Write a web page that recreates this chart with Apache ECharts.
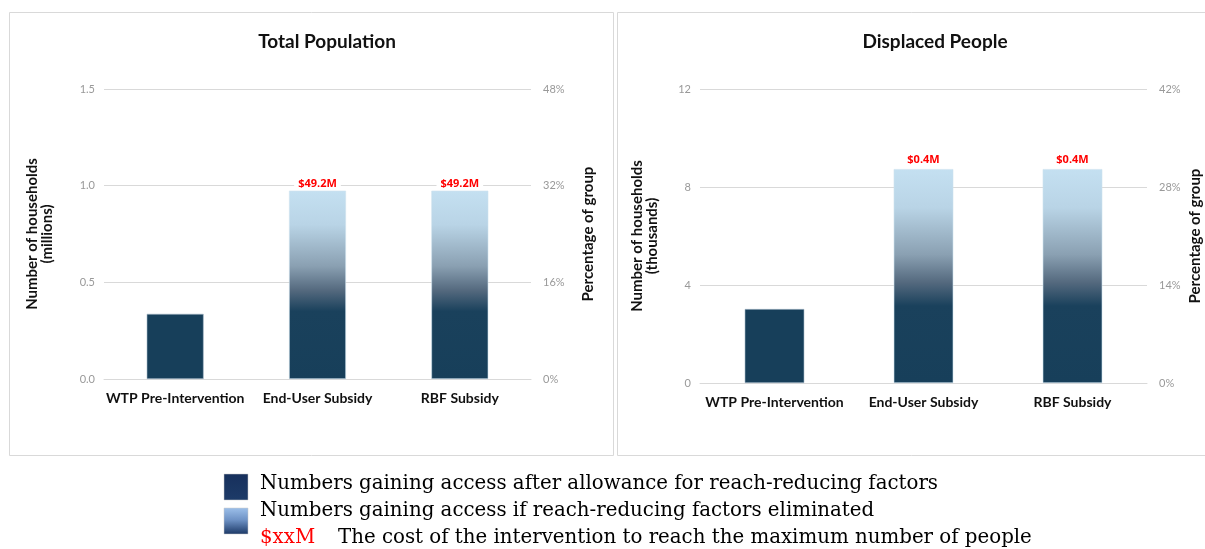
<!DOCTYPE html>
<html>
<head>
<meta charset="utf-8">
<script src="https://cdn.jsdelivr.net/npm/echarts@6/dist/echarts.min.js"></script>
<style>
  html, body { margin: 0; padding: 0; background: #ffffff; }
  #chart { width: 1205px; height: 549px; }
</style>
</head>
<body>
<div id="chart"></div>
<script>
// Categories shared by both panels
const categories = ['WTP Pre-Intervention', 'End-User Subsidy', 'RBF Subsidy'];

// Households reached, total population (millions)
const totalHouseholds = [0.337, 0.974, 0.974];
// Households reached, displaced people (thousands)
const displacedHouseholds = [3.02, 8.73, 8.73];

// Intervention cost to reach the maximum number of people
const totalCost = ['', '$49.2M', '$49.2M'];
const displacedCost = ['', '$0.4M', '$0.4M'];

// Axis scales: [min, max, interval]
const totalCountAxis = [0, 1.5, 0.5];
const totalPctAxis = [0, 48, 16];
const displacedCountAxis = [0, 12, 4];
const displacedPctAxis = [0, 42, 14];

// Panel titles and axis names
const panelTitles = ['Total Population', 'Displaced People'];
const countAxisNames = ['Number of households\n(millions)', 'Number of households\n(thousands)'];
const pctAxisName = 'Percentage of group';

// Legend text
const legendLines = [
  'Numbers gaining access after allowance for reach-reducing factors',
  'Numbers gaining access if reach-reducing factors eliminated'
];
const costKey = '$xxM';
const costKeyText = 'The cost of the intervention to reach the maximum number of people';

const DARK = '#173f5a';
const reachGradient = {
  type: 'linear', x: 0, y: 0, x2: 0, y2: 1,
  colorStops: [
    { offset: 0, color: '#c4e0f1' },
    { offset: 0.18, color: '#b9d4e6' },
    { offset: 0.4, color: '#8aa0b2' },
    { offset: 0.53, color: '#54697e' },
    { offset: 0.64, color: '#1a415c' },
    { offset: 1, color: DARK }
  ]
};

const tickFont = { color: '#999999', fontSize: 11, fontFamily: 'Lato' };
const nameFont = { color: '#111', fontSize: 15, fontWeight: 'bold', fontFamily: 'Lato', lineHeight: 15 };
const legendFont = '19.8px "DejaVu Serif"';

function barData(values) {
  return values.map((v, i) => ({
    value: v,
    itemStyle: i === 0
      ? { color: DARK, borderColor: '#a9bccb', borderWidth: 0.6 }
      : { color: reachGradient, borderColor: '#cfe2ee', borderWidth: 0.6 }
  }));
}

function costLabel(costs, distance) {
  return {
    show: true,
    position: 'top',
    distance,
    formatter: p => costs[p.dataIndex],
    color: '#ff0000',
    fontSize: 11,
    fontWeight: 'bold',
    fontFamily: 'Open Sans',
    backgroundColor: '#ffffff',
    padding: [1, 4, 0, 4]
  };
}

function countAxis(gridIndex, scale, name, gap) {
  return {
    type: 'value', gridIndex,
    min: scale[0], max: scale[1], interval: scale[2],
    name, nameLocation: 'middle', nameRotate: 90, nameGap: gap,
    nameTextStyle: nameFont,
    axisLabel: Object.assign({ margin: 9,
      formatter: v => gridIndex === 0 ? v.toFixed(1) : String(v) }, tickFont),
    axisLine: { show: false }, axisTick: { show: false },
    splitLine: { lineStyle: { color: '#d9d9d9', width: 1 } }
  };
}

function pctAxis(gridIndex, scale, gap) {
  return {
    type: 'value', gridIndex, position: 'right',
    min: scale[0], max: scale[1], interval: scale[2],
    name: pctAxisName, nameLocation: 'middle', nameRotate: 90, nameGap: gap,
    nameTextStyle: nameFont,
    axisLabel: Object.assign({ margin: 12, formatter: '{value}%' }, tickFont),
    axisLine: { show: false }, axisTick: { show: false },
    splitLine: { show: false }
  };
}

function catAxis(gridIndex) {
  return {
    type: 'category', gridIndex, data: categories,
    axisLine: { lineStyle: { color: '#d9d9d9' } },
    axisTick: { show: false },
    axisLabel: { color: '#111', fontSize: 14, fontWeight: 'bold', fontFamily: 'Lato', margin: 12, interval: 0 }
  };
}

const titleStyle = { fontSize: 19, fontWeight: 'bold', color: '#111', fontFamily: 'Lato' };

const chart = echarts.init(document.getElementById('chart'), null, { renderer: 'canvas' });

chart.setOption({
  animation: false,
  backgroundColor: '#ffffff',
  title: [
    { text: panelTitles[0], left: 322, top: 27, textAlign: 'center', textStyle: titleStyle },
    { text: panelTitles[1], left: 930, top: 27, textAlign: 'center', textStyle: titleStyle }
  ],
  grid: [
    { left: 104, top: 89, width: 427, height: 290 },
    { left: 700, top: 89, width: 447, height: 294 }
  ],
  xAxis: [catAxis(0), catAxis(1)],
  yAxis: [
    countAxis(0, totalCountAxis, countAxisNames[0], 49),
    pctAxis(0, totalPctAxis, 50),
    countAxis(1, displacedCountAxis, countAxisNames[1], 40),
    pctAxis(1, displacedPctAxis, 41)
  ],
  series: [
    { type: 'bar', xAxisIndex: 0, yAxisIndex: 0, barWidth: '40%',
      data: barData(totalHouseholds), label: costLabel(totalCost, 1) },
    { type: 'bar', xAxisIndex: 1, yAxisIndex: 2, barWidth: '40%',
      data: barData(displacedHouseholds), label: costLabel(displacedCost, 4) }
  ],
  graphic: [
    // panel frames
    { type: 'rect', silent: true, z: -1,
      shape: { x: 9.5, y: 12.5, width: 604, height: 443 },
      style: { fill: null, stroke: '#d9d9d9', lineWidth: 1 } },
    { type: 'rect', silent: true, z: -1,
      shape: { x: 617.5, y: 12.5, width: 620, height: 443 },
      style: { fill: null, stroke: '#d9d9d9', lineWidth: 1 } },
    // legend swatches
    { type: 'rect', shape: { x: 224, y: 474, width: 24, height: 26 },
      style: { fill: { type: 'linear', x: 0, y: 0, x2: 0, y2: 1,
        colorStops: [{ offset: 0, color: '#17305c' }, { offset: 1, color: '#1d3b68' }] },
        stroke: '#c8c8c8', lineWidth: 0.5 } },
    { type: 'rect', shape: { x: 224, y: 508, width: 24, height: 26 },
      style: { fill: { type: 'linear', x: 0, y: 0, x2: 0, y2: 1,
        colorStops: [{ offset: 0, color: '#9dc0ea' }, { offset: 0.45, color: '#6f93c6' }, { offset: 1, color: '#1b3866' }] },
        stroke: '#c8c8c8', lineWidth: 0.5 } },
    // legend text
    { type: 'text', x: 260, y: 484,
      style: { text: legendLines[0], fill: '#000', font: legendFont, textVerticalAlign: 'middle' } },
    { type: 'text', x: 260, y: 511,
      style: { text: legendLines[1], fill: '#000', font: legendFont, textVerticalAlign: 'middle' } },
    { type: 'text', x: 260, y: 538,
      style: { text: costKey, fill: '#ff0000', font: legendFont, textVerticalAlign: 'middle' } },
    { type: 'text', x: 338, y: 538,
      style: { text: costKeyText, fill: '#000', font: legendFont, textVerticalAlign: 'middle' } }
  ]
});
</script>
</body>
</html>
